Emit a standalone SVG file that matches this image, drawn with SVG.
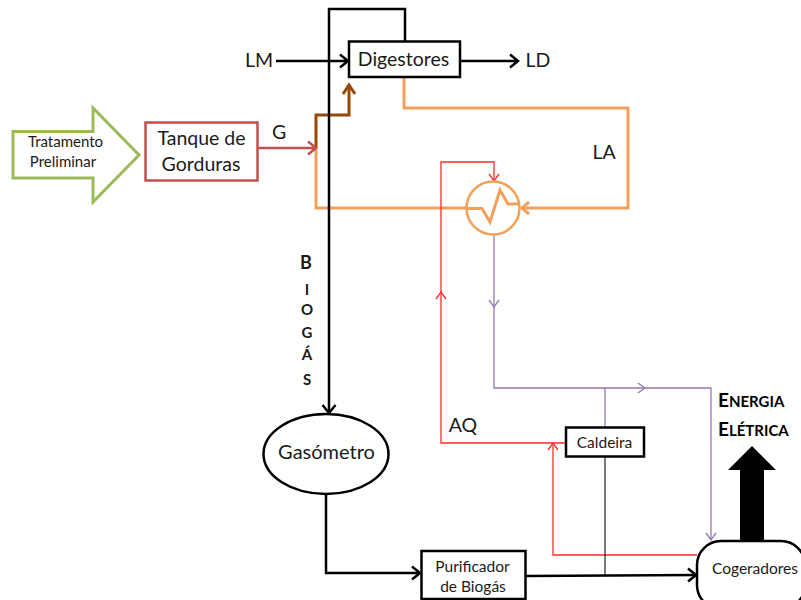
<svg xmlns="http://www.w3.org/2000/svg" width="801" height="600" viewBox="0 0 801 600">
<defs>
<marker id="aK" markerUnits="userSpaceOnUse" markerWidth="16" markerHeight="16" refX="10" refY="8" orient="auto" overflow="visible"><path d="M2 1.500L10 8L2 14.500" fill="none" stroke="#000" stroke-width="2.500"/></marker>
<marker id="aB" markerUnits="userSpaceOnUse" markerWidth="16" markerHeight="16" refX="10" refY="8" orient="auto" overflow="visible"><path d="M1 2L10 8L1 14" fill="none" stroke="#984807" stroke-width="3"/></marker>
<marker id="aM" markerUnits="userSpaceOnUse" markerWidth="16" markerHeight="16" refX="10" refY="8" orient="auto" overflow="visible"><path d="M2 1.500L10 8L2 14.500" fill="none" stroke="#c0504d" stroke-width="2.500"/></marker>
<marker id="aO" markerUnits="userSpaceOnUse" markerWidth="16" markerHeight="16" refX="10" refY="8" orient="auto" overflow="visible"><path d="M3 2L10 8L3 14" fill="none" stroke="#f2a05a" stroke-width="3"/></marker>
<marker id="aR" markerUnits="userSpaceOnUse" markerWidth="14" markerHeight="14" refX="8" refY="7" orient="auto" overflow="visible"><path d="M1 2L8 7L1 12" fill="none" stroke="#ff2a2a" stroke-width="1.300"/></marker>
<marker id="aP" markerUnits="userSpaceOnUse" markerWidth="14" markerHeight="14" refX="8" refY="7" orient="auto" overflow="visible"><path d="M1 2L8 7L1 12" fill="none" stroke="#9278b5" stroke-width="1.300"/></marker>
</defs>
<style>
text{font-family:Lato,"Liberation Sans",sans-serif;fill:#1a1a1a;text-anchor:middle}
.f{fill:none}
.k{stroke:#000;stroke-width:2.500}
.o{stroke:#f2a05a;stroke-width:3}
.b{stroke:#984807;stroke-width:3}
.m{stroke:#c0504d;stroke-width:2.500}
.r{stroke:#ff2a2a;stroke-width:1.300}
.p{stroke:#9278b5;stroke-width:1.300}
.t{stroke:#222;stroke-width:1.200}
.n{fill:#fff;stroke:#000;stroke-width:2.500}
.l{font-size:19.500px}
.s{font-size:15px}
.v{font-size:15px;font-weight:700}
.e{font-size:19px;font-weight:700;fill:#000;text-anchor:start}
.e tspan{font-size:15px}
</style>
<g id="connectors">
<path class="f o" d="M404 77V108H628V208H522" marker-end="url(#aO)"/>
<path class="f o" d="M467 208H316V148"/>
<path class="f b" d="M316 148V115H349V85" marker-end="url(#aB)"/>
<path class="f m" d="M257 148H316" marker-end="url(#aM)"/>
<path class="f r" d="M566 443H441V292" marker-end="url(#aR)"/>
<path class="f r" d="M441 292V162H494V181" marker-end="url(#aR)"/>
<path class="f r" d="M697 555H553V443" marker-end="url(#aR)"/>
<path class="f p" d="M494 235V307" marker-end="url(#aP)"/>
<path class="f p" d="M494 307V388H645" marker-end="url(#aP)"/>
<path class="f p" d="M645 388H711V540" marker-end="url(#aP)"/>
<path class="f p" d="M605 388V427"/>
<path class="f t" d="M605 457V575"/>
<path class="f k" d="M276 61H348" marker-end="url(#aK)"/>
<path class="f k" d="M460 61H518" marker-end="url(#aK)"/>
<path class="f k" d="M405 41V9H329V413" marker-end="url(#aK)"/>
<path class="f k" d="M326 494V573H420" marker-end="url(#aK)"/>
<path class="f k" d="M526 576L696 575" marker-end="url(#aK)"/>
</g>
<g id="tratamento"><path d="M13 131.500H93V108L139 155L93 202V178H13Z" fill="#fff" stroke="#9bbb59" stroke-width="3"/><text class="s" x="65.500" y="147">Tratamento</text><text class="s" x="63" y="167">Preliminar</text></g>
<g id="tanque"><rect x="145.500" y="122.500" width="112" height="58" fill="#fff" stroke="#c0504d" stroke-width="2.500"/><text class="l" x="201.500" y="145">Tanque de</text><text class="l" x="201" y="171">Gorduras</text></g>
<g id="digestores"><rect class="n" x="349" y="41.500" width="111" height="35.500"/><text class="l" x="403.500" y="66">Digestores</text></g>
<g id="trocador"><circle cx="493" cy="208" r="26.500" fill="#fff" stroke="#f2a05a" stroke-width="2.500"/><path class="f o" d="M467 208.500H482L490 222L500 190L508 204H520"/></g>
<g id="gasometro"><ellipse class="n" cx="326" cy="454" rx="62.500" ry="40"/><text x="326.500" y="459" style="font-size:20px">Gasómetro</text></g>
<g id="caldeira"><rect class="n" x="566" y="427.500" width="78" height="29"/><text x="604.500" y="448" style="font-size:15.500px">Caldeira</text></g>
<g id="purificador"><rect class="n" x="421.500" y="551" width="104" height="48"/><text x="472.500" y="572" style="font-size:15.500px">Purificador</text><text x="473" y="592" style="font-size:15.500px">de Biogás</text></g>
<g id="cogeradores"><rect class="n" x="697" y="541" width="108" height="68" rx="24"/><text x="755" y="574" style="font-size:15.500px">Cogeradores</text></g>
<g id="energia-seta"><path d="M740 541V470H728L752 446L776 470H764V541Z" fill="#000"/></g>
<g id="labels">
<text class="l" x="259" y="67">LM</text>
<text class="l" x="538" y="67">LD</text>
<text class="l" x="279" y="139">G</text>
<text class="l" x="604" y="159">LA</text>
<text class="l" x="463" y="432">AQ</text>
<text class="v" x="306" y="269" style="font-size:18px">B</text>
<text class="v" x="307" y="295">I</text>
<text class="v" x="307" y="315">O</text>
<text class="v" x="307" y="338">G</text>
<text class="v" x="307" y="360">Á</text>
<text class="v" x="307" y="385">S</text>
<text class="e" x="718" y="407">E<tspan>NERGIA</tspan></text>
<text class="e" x="718" y="436">E<tspan>LÉTRICA</tspan></text>
</g>
</svg>
